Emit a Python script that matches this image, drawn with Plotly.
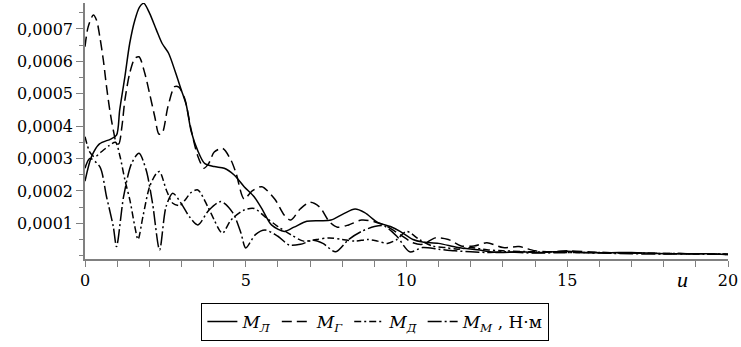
import plotly.graph_objects as go

# ---- data (values in N·m) ----
u_L = [0, 0.2, 0.45, 0.8, 0.98, 1.08, 1.24, 1.39, 1.55, 1.7, 1.83, 2.01, 2.22, 2.4, 2.6,
       2.8, 3.0, 3.15, 3.3, 3.5, 3.72, 4.02, 4.33, 4.64, 4.95, 5.26, 5.5, 5.8, 6.2, 6.5,
       6.9, 7.3, 7.65, 8.05, 8.4, 8.7, 9.1, 9.5, 9.8, 10.2, 10.5, 11.0, 11.6, 12.2, 12.8,
       13.5, 14.2, 15.0, 15.6, 16.3, 17.0, 17.8, 18.5, 19.3, 20]
M_L = [2.3e-4, 3.05e-4, 3.45e-4, 3.6e-4, 3.72e-4, 4.5e-4, 5.52e-4, 6.55e-4, 7.27e-4, 7.68e-4,
       7.79e-4, 7.48e-4, 6.97e-4, 6.55e-4, 6.25e-4, 5.7e-4, 5.1e-4, 4.65e-4, 3.85e-4, 3.26e-4,
       2.85e-4, 2.75e-4, 2.7e-4, 2.49e-4, 2.13e-4, 1.82e-4, 1.45e-4, 0.95e-4, 0.75e-4, 0.88e-4,
       1.06e-4, 1.08e-4, 1.1e-4, 1.3e-4, 1.44e-4, 1.33e-4, 1.03e-4, 0.9e-4, 0.75e-4, 0.5e-4,
       0.42e-4, 0.38e-4, 0.25e-4, 0.18e-4, 0.1e-4, 0.12e-4, 0.1e-4, 0.14e-4, 0.1e-4, 0.09e-4,
       0.1e-4, 0.07e-4, 0.06e-4, 0.06e-4, 0.04e-4]

u_G = [0, 0.1, 0.26, 0.36, 0.46, 0.57, 0.67, 0.77, 0.88, 0.97, 1.05, 1.15, 1.24, 1.39, 1.55,
       1.68, 1.86, 2.01, 2.17, 2.3, 2.4, 2.58, 2.79, 2.92, 3.1, 3.3, 3.5, 3.7, 3.85, 4.02,
       4.28, 4.54, 4.7, 4.95, 5.2, 5.5, 5.9, 6.2, 6.4, 6.7, 7.0, 7.3, 7.6, 7.85, 8.2,
       8.6, 9.0, 9.4, 9.8, 10.2, 10.5, 10.9, 11.3, 11.7, 12.1, 12.5, 13.0, 13.5, 14.0, 14.5,
       15, 16, 17, 18, 19, 20]
M_G = [6.45e-4, 7.07e-4, 7.43e-4, 7.27e-4, 6.76e-4, 6.04e-4, 5.22e-4, 4.5e-4, 3.88e-4, 3.5e-4,
       3.45e-4, 4.0e-4, 4.8e-4, 5.63e-4, 6.09e-4, 6.14e-4, 5.63e-4, 5.0e-4, 4.29e-4, 3.75e-4,
       3.78e-4, 4.6e-4, 5.22e-4, 5.2e-4, 4.85e-4, 3.9e-4, 3.1e-4, 2.7e-4, 2.85e-4, 3.2e-4,
       3.31e-4, 2.95e-4, 2.54e-4, 1.75e-4, 2.0e-4, 2.13e-4, 1.75e-4, 1.25e-4, 1.1e-4, 1.45e-4,
       1.65e-4, 1.5e-4, 1.05e-4, 0.88e-4, 0.95e-4, 1.1e-4, 1.05e-4, 0.9e-4, 0.65e-4, 0.4e-4,
       0.35e-4, 0.55e-4, 0.5e-4, 0.3e-4, 0.3e-4, 0.4e-4, 0.25e-4, 0.28e-4, 0.15e-4, 0.12e-4,
       0.15e-4, 0.1e-4, 0.08e-4, 0.07e-4, 0.06e-4, 0.04e-4]

u_D = [0, 0.15, 0.3, 0.5, 0.75, 0.95, 1.08, 1.25, 1.4, 1.55, 1.65, 1.8, 2.01, 2.22, 2.32,
       2.53, 2.73, 2.95, 3.1, 3.3, 3.51, 3.82, 4.02, 4.18, 4.28, 4.54, 4.95, 5.26, 5.6, 6.0,
       6.4, 6.8, 7.2, 7.6, 8.0, 8.4, 8.8, 9.1, 9.4, 9.7, 10.0, 10.4, 10.8, 11.2, 11.6,
       12.0, 12.5, 13, 14, 15, 16, 17, 18, 19, 20]
M_D = [3.67e-4, 3.2e-4, 3.05e-4, 3.2e-4, 3.4e-4, 3.5e-4, 3.1e-4, 2.3e-4, 1.7e-4, 0.9e-4,
       0.5e-4, 1.2e-4, 2.13e-4, 2.54e-4, 2.6e-4, 2.03e-4, 1.62e-4, 1.55e-4, 1.7e-4, 1.95e-4,
       2.03e-4, 1.51e-4, 1.1e-4, 0.79e-4, 0.69e-4, 1.1e-4, 1.41e-4, 1.46e-4, 1.2e-4, 0.9e-4,
       0.65e-4, 0.45e-4, 0.5e-4, 0.55e-4, 0.5e-4, 0.45e-4, 0.5e-4, 0.45e-4, 0.38e-4, 0.5e-4,
       0.75e-4, 0.5e-4, 0.3e-4, 0.25e-4, 0.2e-4, 0.25e-4, 0.18e-4, 0.15e-4, 0.12e-4, 0.1e-4,
       0.1e-4, 0.08e-4, 0.07e-4, 0.06e-4, 0.05e-4]

u_M = [0, 0.15, 0.46, 0.67, 0.88, 0.98, 1.2, 1.45, 1.68, 1.9, 2.1, 2.32, 2.52, 2.73, 3.0,
       3.25, 3.51, 3.85, 4.23, 4.6, 4.85, 5.0, 5.3, 5.6, 6.0, 6.35, 6.7, 7.1, 7.4, 7.8,
       8.2, 8.6, 9.0, 9.3, 9.7, 10.1, 10.5, 11.0, 11.5, 12, 12.5, 13, 14, 15, 16,
       17, 18, 19, 20]
M_M = [2.7e-4, 3.0e-4, 2.75e-4, 1.82e-4, 0.9e-4, 0.28e-4, 1.82e-4, 2.85e-4, 3.16e-4, 2.65e-4,
       1.62e-4, 0.18e-4, 1.51e-4, 1.93e-4, 1.6e-4, 1.2e-4, 0.95e-4, 1.4e-4, 1.67e-4, 1.32e-4,
       0.7e-4, 0.24e-4, 0.65e-4, 0.79e-4, 0.6e-4, 0.33e-4, 0.35e-4, 0.48e-4, 0.38e-4, 0.12e-4,
       0.5e-4, 0.75e-4, 0.9e-4, 0.92e-4, 0.6e-4, 0.12e-4, 0.25e-4, 0.2e-4, 0.15e-4, 0.12e-4,
       0.1e-4, 0.12e-4, 0.08e-4, 0.1e-4, 0.08e-4, 0.06e-4, 0.05e-4, 0.05e-4, 0.04e-4]

y_tickvals = [0.0001, 0.0002, 0.0003, 0.0004, 0.0005, 0.0006, 0.0007]
y_ticktext = ["0,0001", "0,0002", "0,0003", "0,0004", "0,0005", "0,0006", "0,0007"]
x_tickvals = [0, 5, 10, 15, 20]
x_ticktext = ["0", "5", "10", "15", "20"]

names = ["<i>M</i><sub><i>Л</i></sub>", "<i>M</i><sub><i>Г</i></sub>",
         "<i>M</i><sub><i>Д</i></sub>", "<i>M</i><sub><i>М</i></sub> , Н·м"]

series = [(u_L, M_L, "solid"), (u_G, M_G, "10px,5px"),
          (u_D, M_D, "7px,3px,2px,3px"), (u_M, M_M, "14px,3px,2px,3px")]

fig = go.Figure()
for (xs, ys, dash), nm in zip(series, names):
    fig.add_trace(go.Scatter(x=xs, y=ys, mode="lines", name=nm,
                             line=dict(color="black", width=1.5, dash=dash,
                                       shape="spline", smoothing=0.8)))

axis_col = "#808080"
tickfont = dict(family="DejaVu Serif", size=16, color="black")
fig.update_xaxes(range=[0, 20], tickmode="array", tickvals=x_tickvals, ticktext=x_ticktext,
                 showline=True, linecolor=axis_col, linewidth=1.5, ticks="outside",
                 ticklen=6, tickcolor=axis_col, tickwidth=1, showgrid=False, zeroline=False,
                 tickfont=tickfont,
                 minor=dict(tick0=0, dtick=1, ticks="outside", ticklen=6,
                            tickcolor=axis_col, tickwidth=1, showgrid=False))
fig.update_yaxes(range=[-0.0000102, 0.00078], tickmode="array", tickvals=y_tickvals,
                 ticktext=y_ticktext, showline=True, linecolor=axis_col, linewidth=1.5,
                 ticks="outside", ticklen=7, tickcolor=axis_col, tickwidth=1,
                 showgrid=False, zeroline=False, tickfont=tickfont,
                 minor=dict(tick0=0, dtick=0.00005, ticks="outside", ticklen=4,
                            tickcolor=axis_col, tickwidth=1, showgrid=False))

fig.add_annotation(x=18.6, xref="x", y=-0.082, yref="paper", text="<i>u</i>",
                   showarrow=False, font=dict(family="Liberation Serif", size=22, color="black"),
                   yanchor="middle")

fig.update_layout(
    width=741, height=347,
    margin=dict(l=85, r=11, t=3, b=88),
    plot_bgcolor="white", paper_bgcolor="white",
    showlegend=True,
    legend=dict(orientation="h", x=0.181, xanchor="left", y=-0.172, yanchor="top",
                bordercolor="black", borderwidth=1, bgcolor="white",
                font=dict(family="DejaVu Serif", size=17, color="black"),
                itemwidth=30, tracegroupgap=0),
)

fig.write_html("out.html")
